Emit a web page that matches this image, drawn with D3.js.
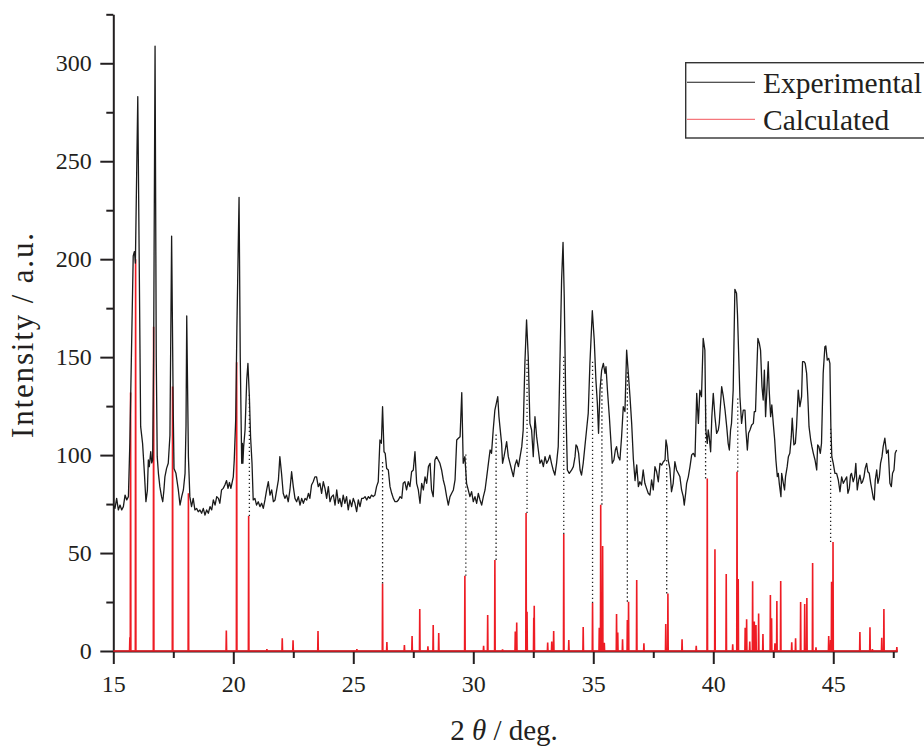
<!DOCTYPE html>
<html>
<head>
<meta charset="utf-8">
<script src="https://cdn.jsdelivr.net/npm/d3@7"></script>
<style>
  html, body { margin: 0; padding: 0; background: #fff; }
  svg { display: block; font-family: "Liberation Serif", "Times New Roman", serif; }
</style>
</head>
<body>
<svg id="chart" width="924" height="746"></svg>
<script>
// Measured powder pattern: [2θ (deg), intensity (a.u.)]
const experimental = [
  [15.00,74.5],[15.07,72.8],[15.14,77.9],[15.21,72.0],[15.28,74.5],[15.35,72.0],[15.42,73.7],[15.49,79.6],
  [15.56,77.1],[15.63,78.8],[15.69,106.5],[15.76,154.3],[15.83,201.7],[15.88,203.9],[15.92,198.0],[16.02,283.0],
  [16.14,114.5],[16.22,106.0],[16.29,92.0],[16.36,76.2],[16.42,82.0],[16.46,97.5],[16.50,94.1],[16.56,101.8],
  [16.60,96.0],[16.64,97.5],[16.68,150.0],[16.74,308.8],[16.79,150.0],[16.83,99.2],[16.88,90.7],[16.94,83.9],
  [17.01,78.8],[17.06,76.2],[17.11,82.2],[17.15,88.9],[17.22,93.2],[17.29,95.8],[17.36,110.0],[17.43,211.8],
  [17.50,120.0],[17.53,93.2],[17.61,90.7],[17.71,82.2],[17.78,74.5],[17.85,78.8],[17.92,82.2],[17.99,90.7],
  [18.03,115.0],[18.06,171.0],[18.13,99.2],[18.19,78.8],[18.26,73.7],[18.33,77.9],[18.40,72.0],[18.47,72.8],
  [18.54,71.1],[18.61,72.0],[18.68,70.3],[18.75,72.8],[18.82,69.4],[18.89,72.0],[18.96,70.3],[19.03,73.7],
  [19.10,72.0],[19.17,77.1],[19.24,74.5],[19.31,78.8],[19.38,77.9],[19.44,75.4],[19.51,82.2],[19.58,83.0],
  [19.65,84.7],[19.72,87.0],[19.78,83.0],[19.84,86.0],[19.90,83.0],[20.00,88.9],[20.04,97.5],[20.10,118.0],
  [20.15,165.0],[20.24,231.6],[20.29,150.0],[20.35,95.8],[20.38,106.0],[20.40,95.8],[20.43,104.0],[20.49,112.8],
  [20.56,138.3],[20.61,146.8],[20.67,129.8],[20.72,109.4],[20.78,95.8],[20.83,77.1],[20.90,77.9],[20.97,74.5],
  [21.04,76.2],[21.11,73.7],[21.18,75.4],[21.25,72.8],[21.32,77.1],[21.39,82.2],[21.46,86.4],[21.53,79.6],
  [21.60,82.2],[21.67,76.2],[21.74,77.1],[21.81,82.2],[21.88,87.3],[21.94,99.2],[22.01,90.7],[22.08,80.5],
  [22.15,77.9],[22.22,79.6],[22.29,76.2],[22.36,82.2],[22.43,91.5],[22.50,83.9],[22.57,77.9],[22.64,76.2],
  [22.71,78.8],[22.78,74.5],[22.85,77.9],[22.92,75.4],[22.99,77.9],[23.06,77.1],[23.13,80.5],[23.19,77.9],
  [23.26,84.7],[23.33,86.4],[23.40,88.9],[23.47,88.9],[23.54,83.9],[23.61,85.6],[23.68,80.5],[23.75,86.4],
  [23.82,83.0],[23.89,77.9],[23.96,83.9],[24.03,76.2],[24.10,78.8],[24.17,79.6],[24.24,74.5],[24.31,82.2],
  [24.38,75.4],[24.44,77.9],[24.51,73.7],[24.58,79.6],[24.65,75.4],[24.72,78.8],[24.79,72.0],[24.86,77.1],
  [24.93,73.7],[25.00,77.9],[25.07,75.4],[25.14,71.1],[25.21,77.1],[25.28,73.7],[25.35,77.9],[25.42,77.9],
  [25.49,78.8],[25.56,77.1],[25.63,78.8],[25.69,77.9],[25.76,79.6],[25.83,78.8],[25.90,79.6],[25.97,83.9],
  [26.04,86.4],[26.11,107.7],[26.17,106.0],[26.22,124.7],[26.28,101.7],[26.33,100.9],[26.39,93.2],[26.46,92.4],
  [26.53,83.9],[26.60,80.5],[26.67,77.9],[26.74,76.2],[26.81,76.2],[26.88,77.1],[26.95,78.8],[27.02,77.9],
  [27.08,85.6],[27.15,86.4],[27.22,82.2],[27.29,86.4],[27.36,83.9],[27.43,91.5],[27.50,92.4],[27.57,101.7],
  [27.64,85.6],[27.71,82.2],[27.78,75.4],[27.85,85.6],[27.92,82.2],[27.99,88.9],[28.06,85.6],[28.13,94.1],
  [28.20,95.8],[28.26,82.2],[28.33,78.8],[28.40,97.5],[28.47,99.2],[28.54,97.5],[28.61,95.8],[28.68,92.4],
  [28.75,87.3],[28.82,83.9],[28.89,78.8],[28.96,74.5],[29.03,78.8],[29.10,80.5],[29.17,82.2],[29.24,87.3],
  [29.31,107.7],[29.38,108.6],[29.45,109.4],[29.52,131.9],[29.58,95.8],[29.65,99.2],[29.72,85.6],[29.79,82.2],
  [29.86,78.8],[29.93,81.3],[30.00,76.2],[30.07,78.8],[30.14,75.4],[30.21,80.5],[30.28,77.1],[30.35,74.5],
  [30.42,78.8],[30.49,82.2],[30.56,88.9],[30.63,95.8],[30.70,102.6],[30.76,100.9],[30.83,112.8],[30.90,123.0],
  [30.96,126.4],[31.02,129.8],[31.07,119.6],[31.11,114.5],[31.18,106.0],[31.22,95.8],[31.28,99.2],[31.33,102.6],
  [31.39,106.9],[31.46,99.2],[31.53,95.8],[31.60,92.4],[31.67,89.0],[31.74,94.9],[31.81,97.5],[31.88,94.1],
  [31.95,99.2],[32.02,104.3],[32.08,112.8],[32.15,146.8],[32.22,169.0],[32.29,150.2],[32.36,116.2],[32.43,112.8],
  [32.50,99.2],[32.57,119.6],[32.64,109.4],[32.71,102.6],[32.78,95.8],[32.85,97.5],[32.92,94.1],[32.99,99.2],
  [33.06,95.8],[33.13,97.5],[33.19,100.0],[33.26,95.8],[33.33,92.4],[33.40,89.8],[33.47,95.8],[33.54,104.3],
  [33.61,146.8],[33.68,189.4],[33.74,208.6],[33.79,180.9],[33.85,129.8],[33.92,92.4],[34.00,90.7],[34.10,92.4],
  [34.17,94.1],[34.24,99.2],[34.28,105.2],[34.33,104.3],[34.39,100.9],[34.45,92.4],[34.51,89.8],[34.58,95.8],
  [34.65,104.3],[34.72,112.8],[34.79,121.3],[34.86,146.8],[34.96,173.7],[35.04,158.7],[35.11,138.3],[35.17,126.4],
  [35.22,111.1],[35.28,133.2],[35.35,143.4],[35.42,146.8],[35.49,141.7],[35.53,145.1],[35.59,133.2],[35.67,119.6],
  [35.74,106.0],[35.79,95.8],[35.86,97.5],[35.92,102.6],[35.97,104.3],[36.04,99.2],[36.11,97.5],[36.18,109.4],
  [36.25,124.7],[36.32,122.2],[36.39,153.6],[36.46,141.7],[36.53,129.8],[36.60,116.2],[36.67,98.0],[36.74,87.0],
  [36.81,95.0],[36.88,83.9],[36.94,86.4],[37.01,84.7],[37.08,92.4],[37.15,85.6],[37.22,83.0],[37.29,80.5],
  [37.36,79.6],[37.43,87.3],[37.50,82.2],[37.57,94.1],[37.64,91.5],[37.71,86.4],[37.78,95.8],[37.85,94.9],
  [37.92,96.6],[37.99,97.5],[38.03,107.7],[38.08,104.3],[38.12,97.5],[38.19,93.2],[38.26,81.3],[38.33,85.6],
  [38.40,96.6],[38.47,92.4],[38.54,90.7],[38.61,88.9],[38.68,82.2],[38.75,78.8],[38.79,74.5],[38.85,80.5],
  [38.89,85.6],[38.96,88.9],[39.03,94.1],[39.10,100.1],[39.17,100.9],[39.24,99.2],[39.31,131.5],[39.38,116.2],
  [39.44,133.2],[39.51,129.8],[39.58,159.6],[39.65,153.6],[39.69,112.8],[39.75,106.0],[39.79,112.8],[39.83,109.4],
  [39.89,101.7],[39.94,119.6],[40.00,131.5],[40.07,119.6],[40.14,111.1],[40.21,112.8],[40.25,116.2],[40.35,134.9],
  [40.42,129.8],[40.49,123.0],[40.56,114.5],[40.62,106.0],[40.67,102.6],[40.72,112.8],[40.76,116.2],[40.83,133.2],
  [40.90,184.6],[40.97,182.6],[41.01,171.5],[41.07,146.8],[41.11,129.8],[41.18,116.2],[41.25,123.0],[41.32,123.0],
  [41.36,112.8],[41.42,102.6],[41.47,111.1],[41.53,112.8],[41.60,115.4],[41.67,116.2],[41.71,122.2],[41.76,122.2],
  [41.81,141.7],[41.86,159.6],[41.92,157.0],[41.97,153.6],[42.03,134.9],[42.08,128.1],[42.13,143.4],[42.18,119.6],
  [42.24,134.9],[42.29,147.7],[42.33,133.2],[42.39,119.6],[42.44,125.6],[42.50,116.2],[42.56,107.7],[42.61,97.5],
  [42.67,89.0],[42.71,90.7],[42.75,85.6],[42.82,78.8],[42.85,90.7],[42.92,85.6],[42.97,82.2],[43.01,88.9],
  [43.08,94.1],[43.13,99.2],[43.19,100.9],[43.25,109.4],[43.29,118.8],[43.36,105.2],[43.42,106.0],[43.47,114.5],
  [43.54,133.2],[43.61,124.7],[43.68,129.8],[43.72,147.7],[43.78,147.7],[43.83,146.8],[43.89,141.7],[43.94,129.8],
  [43.99,114.5],[44.06,107.7],[44.11,104.3],[44.17,100.9],[44.24,97.5],[44.31,92.4],[44.35,105.2],[44.40,104.3],
  [44.46,100.9],[44.51,106.0],[44.58,141.7],[44.65,155.3],[44.69,155.7],[44.75,148.5],[44.81,149.4],[44.86,146.8],
  [44.90,114.5],[44.94,99.2],[45.00,95.8],[45.07,90.7],[45.14,90.7],[45.21,87.3],[45.28,81.3],[45.35,88.9],
  [45.42,85.6],[45.49,87.3],[45.56,88.9],[45.61,80.5],[45.67,83.0],[45.72,89.8],[45.76,90.7],[45.83,86.4],
  [45.89,88.9],[45.94,95.8],[46.00,82.2],[46.06,87.3],[46.11,89.8],[46.17,85.6],[46.22,86.4],[46.28,88.9],
  [46.33,93.2],[46.39,95.8],[46.44,91.5],[46.50,90.7],[46.56,85.6],[46.61,82.2],[46.67,77.9],[46.71,77.1],
  [46.75,87.3],[46.81,92.4],[46.86,85.6],[46.92,88.9],[46.97,95.8],[47.03,99.2],[47.08,104.3],[47.15,108.6],
  [47.22,100.9],[47.29,102.6],[47.36,85.6],[47.42,83.9],[47.47,90.7],[47.53,92.4],[47.58,100.9],[47.64,102.6]
];

// Reflections calculated from the single-crystal structure
const calcTheta = [
  15.69,15.72,15.93,16.68,17.47,18.13,19.71,20.14,20.64,21.40,22.04,22.49,23.53,25.15,
  26.22,26.40,27.13,27.45,27.77,28.11,28.33,28.56,29.65,30.43,30.60,30.90,31.22,31.75,31.81,
  32.20,32.24,32.52,32.54,33.10,33.27,33.35,33.77,33.98,34.58,34.97,35.25,35.31,35.39,35.46,
  35.97,36.02,36.22,36.42,36.47,36.81,37.11,38.02,38.11,38.70,39.29,39.75,40.07,40.54,40.81,
  40.99,41.04,41.33,41.39,41.52,41.64,41.71,41.78,41.89,42.07,42.38,42.43,42.57,42.65,42.81,
  43.27,43.43,43.64,43.81,43.90,44.14,44.28,44.81,44.89,44.93,44.99,46.11,46.53,46.63,47.02,
  47.11,47.65
];
const calcIntensity = [
  7.0,132.0,200.0,165.5,135.0,80.5,10.4,147.4,68.9,1.0,6.5,5.5,10.2,1.0,
  34.5,4.6,3.0,7.7,21.4,2.4,13.3,9.2,38.4,2.6,18.4,46.5,0.8,9.9,14.5,
  70.4,20.0,17.0,23.1,4.3,4.8,10.2,59.7,5.6,12.3,24.5,11.9,74.7,53.6,4.2,
  18.9,9.4,6.0,15.8,25.2,36.2,3.9,13.8,29.4,6.0,2.6,88.1,52.0,39.3,3.4,
  91.5,36.8,11.9,16.2,4.8,35.6,15.0,13.3,19.2,8.7,28.6,16.7,3.9,25.5,35.7,
  4.4,6.5,25.0,24.0,27.0,44.9,1.9,7.7,5.6,35.4,55.6,9.7,12.1,1.0,6.8,
  21.4,2.0
];

// Dotted guides pairing calculated reflections with observed maxima
const guideTheta = [20.67,26.22,29.69,30.95,32.24,33.77,34.97,35.36,36.42,38.06,39.68,41.02,44.89];
const guideLow   = [68.9,34.5,38.4,46.5,70.4,59.7,24.5,74.7,25.2,29.4,88.1,91.5,55.6];
const guideHigh  = [131.7,97.5,100.9,111.1,150.0,151.0,149.0,140.0,143.0,97.5,126.0,129.0,114.5];

// Axis ticks
const xMajorTicks = [15, 20, 25, 30, 35, 40, 45];
const xMinorTicks = [17.5, 22.5, 27.5, 32.5, 37.5, 42.5, 47.5];
const yMajorTicks = [0, 50, 100, 150, 200, 250, 300];
const yMinorTicks = [25, 75, 125, 175, 225, 275, 325];

const seriesNames = ["Experimental", "Calculated"];
const seriesColors = ["#1a1a1a", "#ee1c24"];

const ink = "#231f20";
const svg = d3.select("#chart");

const x = d3.scaleLinear().domain([15, 47.66]).range([113.3, 897.1]);
const y = d3.scaleLinear().domain([0, 325]).range([651, 14.3]);

// ---- axes ----
function styleAxis(g) {
  g.select(".domain").attr("stroke", ink).attr("stroke-width", 2);
  g.selectAll(".tick line").attr("stroke", ink).attr("stroke-width", 2);
  g.selectAll(".tick text").attr("fill", ink).attr("font-size", 24)
    .attr("font-family", '"Liberation Serif", "Times New Roman", serif');
}

const gx = svg.append("g").attr("transform", `translate(0,${y(0)})`);
gx.call(d3.axisBottom(x).tickValues(xMajorTicks).tickSize(13).tickSizeOuter(0)
  .tickPadding(11).tickFormat(d3.format("d")));
styleAxis(gx);
const gxm = svg.append("g").attr("transform", `translate(0,${y(0)})`);
gxm.call(d3.axisBottom(x).tickValues(xMinorTicks).tickSize(7).tickSizeOuter(0).tickFormat(""));
styleAxis(gxm);
gxm.select(".domain").remove();

const gy = svg.append("g").attr("transform", `translate(${x(15)},0)`);
gy.call(d3.axisLeft(y).tickValues(yMajorTicks).tickSize(13).tickSizeOuter(0)
  .tickPadding(8.6).tickFormat(d3.format("d")));
styleAxis(gy);
gy.selectAll(".tick text").attr("dy", "0.30em");
const gym = svg.append("g").attr("transform", `translate(${x(15)},0)`);
gym.call(d3.axisLeft(y).tickValues(yMinorTicks).tickSize(7).tickSizeOuter(0).tickFormat(""));
styleAxis(gym);
gym.select(".domain").remove();

// ---- calculated pattern: narrow spikes on a zero baseline ----
const halfWidth = 0.012;
const calcProfile = [[15, 0]];
calcTheta.forEach((t, i) => {
  calcProfile.push([t - halfWidth, 0], [t, calcIntensity[i]], [t + halfWidth, 0]);
});
calcProfile.push([47.66, 0]);

const line = d3.line().x(d => x(d[0])).y(d => y(d[1]));

svg.append("path")
  .datum(calcProfile)
  .attr("d", line)
  .attr("fill", "none")
  .attr("stroke", seriesColors[1])
  .attr("stroke-width", 1.6)
  .attr("stroke-linejoin", "miter");

// ---- dotted guides ----
svg.append("g").selectAll("line")
  .data(guideTheta)
  .join("line")
  .attr("x1", d => x(d)).attr("x2", d => x(d))
  .attr("y1", (d, i) => y(guideLow[i]))
  .attr("y2", (d, i) => y(guideHigh[i]))
  .attr("stroke", "#222")
  .attr("stroke-width", 1.3)
  .attr("stroke-dasharray", "1.3,2.7");

// ---- experimental pattern ----
svg.append("path")
  .datum(experimental)
  .attr("d", line)
  .attr("fill", "none")
  .attr("stroke", seriesColors[0])
  .attr("stroke-width", 1.3)
  .attr("stroke-linejoin", "round");

// ---- axis titles ----
svg.append("text")
  .attr("transform", "translate(32.5,335.5) rotate(-90)")
  .attr("text-anchor", "middle")
  .attr("font-size", 31)
  .attr("fill", ink)
  .attr("textLength", 205)
  .attr("lengthAdjust", "spacing")
  .text("Intensity / a.u.");

const xt = svg.append("text")
  .attr("x", 504).attr("y", 740)
  .attr("text-anchor", "middle")
  .attr("font-size", 29)
  .attr("fill", ink);
xt.append("tspan").text("2 ");
xt.append("tspan").attr("font-style", "italic").text("θ");
xt.append("tspan").text(" / deg.");

// ---- legend ----
const legend = svg.append("g");
legend.append("rect")
  .attr("x", 685.7).attr("y", 62.7)
  .attr("width", 260).attr("height", 75.3)
  .attr("fill", "#fff")
  .attr("stroke", "#333").attr("stroke-width", 1.4);
const legendRows = [82.3, 119.3];
seriesNames.forEach((name, i) => {
  legend.append("line")
    .attr("x1", 687).attr("x2", 755)
    .attr("y1", legendRows[i]).attr("y2", legendRows[i])
    .attr("stroke", seriesColors[i])
    .attr("stroke-width", i === 0 ? 1.1 : 1.2)
    .attr("stroke-opacity", i === 0 ? 1 : 0.6);
  legend.append("text")
    .attr("x", 763).attr("y", legendRows[i] + 10.5)
    .attr("font-size", 29.5)
    .attr("fill", ink)
    .text(name);
});
</script>
</body>
</html>
